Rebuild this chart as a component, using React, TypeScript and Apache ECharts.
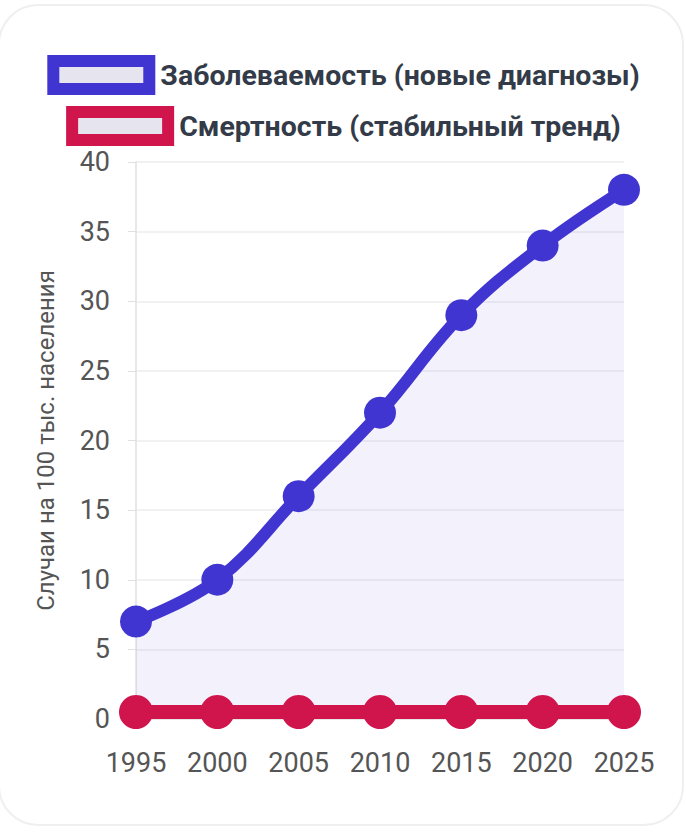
import { useEffect, useRef } from 'react';
import * as echarts from 'echarts';

const years = ['1995', '2000', '2005', '2010', '2015', '2020', '2025'];
const incidence = [7, 10, 16, 22, 29, 34, 38];
const mortality = [0.5, 0.5, 0.5, 0.5, 0.5, 0.5, 0.5];

const incidenceName = 'Заболеваемость (новые диагнозы)';
const mortalityName = 'Смертность (стабильный тренд)';
const yAxisName = 'Случаи на 100 тыс. населения';

const BLUE = '#4035d1';
const RED = '#d0144c';
const FONT = 'Roboto, "Noto Sans", sans-serif';

export default function App() {
  const chartRef = useRef<HTMLDivElement>(null);

  useEffect(() => {
    if (!chartRef.current) return;
    const chart = echarts.init(chartRef.current, null, { renderer: 'svg' });

    const legendText = {
      fontSize: 28.5,
      fontWeight: 'bold' as const,
      color: '#333b48',
      fontFamily: FONT,
      padding: [0, 0, 0, 6],
    };

    const option: echarts.EChartsOption = {
      animation: false,
      backgroundColor: 'transparent',
      textStyle: { fontFamily: FONT },
      legend: [
        {
          data: [incidenceName],
          left: 'center',
          top: 50,
          icon: 'rect',
          itemWidth: 96,
          itemHeight: 28,
          textStyle: legendText,
          itemStyle: { color: '#e6e4ee', borderColor: BLUE, borderWidth: 12 },
          selectedMode: false,
        },
        {
          data: [mortalityName],
          left: 'center',
          top: 101,
          icon: 'rect',
          itemWidth: 96,
          itemHeight: 28,
          textStyle: legendText,
          itemStyle: { color: '#e6e4ee', borderColor: RED, borderWidth: 12 },
          selectedMode: false,
        },
      ],
      grid: { left: 136, right: 63, top: 162, bottom: 113 },
      xAxis: {
        type: 'category',
        data: years,
        boundaryGap: false,
        axisLine: { show: true, lineStyle: { color: '#e6e6e6' } },
        axisTick: { show: false },
        axisLabel: { fontSize: 27, color: '#555', margin: 30, fontFamily: FONT },
        splitLine: { show: false },
      },
      yAxis: {
        type: 'value',
        min: 0,
        max: 40,
        interval: 5,
        name: yAxisName,
        nameLocation: 'middle',
        nameGap: 78,
        nameTextStyle: { fontSize: 24, color: '#555', fontFamily: FONT },
        axisLine: { show: true, lineStyle: { color: '#e0e0e0', width: 1.5 } },
        axisTick: { show: true, length: 8, lineStyle: { color: '#e0e0e0' } },
        axisLabel: { fontSize: 27, color: '#555', margin: 26, fontFamily: FONT },
        splitLine: { lineStyle: { color: '#ececf0', width: 1.5 } },
      },
      series: [
        {
          name: incidenceName,
          type: 'line',
          data: incidence,
          smooth: 0.4,
          symbol: 'circle',
          symbolSize: 32,
          lineStyle: { color: BLUE, width: 12 },
          itemStyle: { color: BLUE },
          areaStyle: { color: 'rgba(64,53,209,0.1)' },
        },
        {
          name: mortalityName,
          type: 'line',
          data: mortality,
          symbol: 'circle',
          symbolSize: 34,
          lineStyle: { color: RED, width: 14 },
          itemStyle: { color: RED },
        },
      ],
    };

    chart.setOption(option);
    return () => chart.dispose();
  }, []);

  return (
    <div style={{ position: 'fixed', left: 0, top: 0, width: 687, height: 832, background: '#fff' }}>
      <div
        style={{
          position: 'absolute',
          left: -2,
          top: 4,
          width: 686,
          height: 822,
          boxSizing: 'border-box',
          border: '2px solid #efefef',
          borderRadius: 40,
        }}
      />
      <div ref={chartRef} style={{ position: 'absolute', left: 0, top: 0, width: 687, height: 832 }} />
    </div>
  );
}
